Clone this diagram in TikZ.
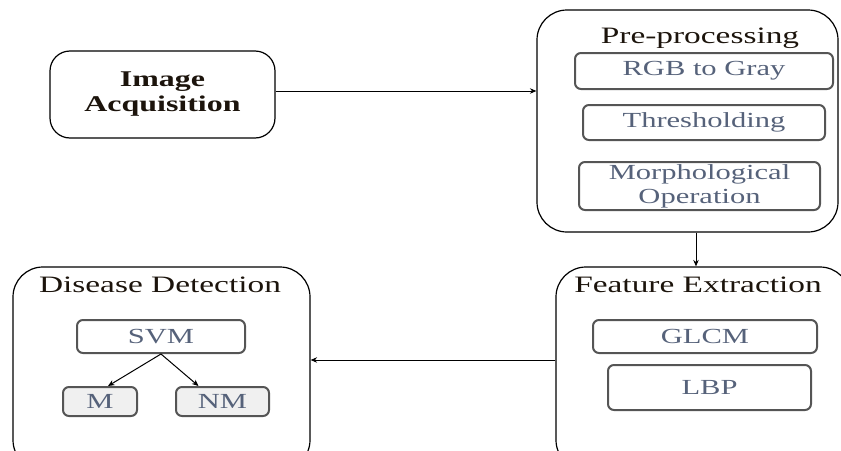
\documentclass[tikz,border=0pt]{standalone}
\usepackage{fontspec}
\setmainfont{Liberation Serif}[FakeStretch=1.42]
\usetikzlibrary{arrows.meta}
\definecolor{innertxt}{HTML}{56627A}
\definecolor{titletxt}{HTML}{1C140C}
\definecolor{subedge}{HTML}{555555}
\begin{document}
\begin{tikzpicture}[x=1pt,y=-1pt,
  outer/.style={draw=black, line width=1.2pt, rounded corners=30pt, inner sep=0pt},
  sub/.style={draw=subedge, line width=2pt, rounded corners=6pt, inner sep=0pt, text=innertxt,
    font=\fontsize{21.5}{23}\selectfont, align=center},
  ttl/.style={text=titletxt, font=\fontsize{23.5}{25}\selectfont, inner sep=0pt},
  arr/.style={-{Stealth[length=6.5pt,width=5.5pt]}, line width=1pt}]
\useasboundingbox (0,0) rectangle (841,450);
\clip (0,0) rectangle (841,450);
% Image acquisition
\node[outer, rounded corners=20pt, minimum width=225pt, minimum height=87pt, align=center,
  font=\bfseries\fontsize{22.5}{25}\selectfont, text=titletxt] (acq) at (162.5,94.5) {Image\\Acquisition};
% Pre-processing
\node[outer, minimum width=301pt, minimum height=222pt] (pre) at (687.5,121) {};
\node[ttl] (pret) at (700,38) {Pre-processing};
\node[sub, minimum width=258pt, minimum height=36pt] (rgb) at (704,71) {RGB to Gray};
\node[sub, minimum width=242pt, minimum height=35pt] (thr) at (704,122.5) {Thresholding};
\node[sub, minimum width=241pt, minimum height=48pt, font=\fontsize{21.5}{24}\selectfont] (mor) at (699.5,186) {Morphological\\Operation};
% Feature extraction
\node[outer, minimum width=294pt, minimum height=203pt] (feat) at (703,368.5) {};
\node[ttl] (featt) at (698,285) {Feature Extraction};
\node[sub, minimum width=224pt, minimum height=33pt] (glcm) at (705,336.5) {GLCM};
\node[sub, minimum width=203pt, minimum height=45pt] (lbp) at (709.5,387.5) {LBP};
% Disease detection
\node[outer, minimum width=297pt, minimum height=203pt] (dis) at (161.5,368.5) {};
\node[ttl] (dist) at (160,285) {Disease Detection};
\node[sub, minimum width=168pt, minimum height=33pt] (svm) at (161,336.5) {SVM};
\node[sub, fill=gray!12, minimum width=74pt, minimum height=29pt] (m) at (100,401.5) {M};
\node[sub, fill=gray!12, minimum width=93pt, minimum height=29pt] (nm) at (222.5,401.5) {NM};
% connectors
\draw[arr] ([yshift=3.5pt]acq.east) -- ([yshift=3.5pt]acq.east -| pre.west);
\draw[arr] ([xshift=8.5pt]pre.south) -- ([xshift=8.5pt]pre.south |- feat.north);
\draw[arr] ([yshift=8.5pt]feat.west) -- ([yshift=8.5pt]feat.west -| dis.east);
\draw[arr] (svm.south) -- ([xshift=8pt]m.north);
\draw[arr] (svm.south) -- ([xshift=-24pt]nm.north);
\end{tikzpicture}
\end{document}
